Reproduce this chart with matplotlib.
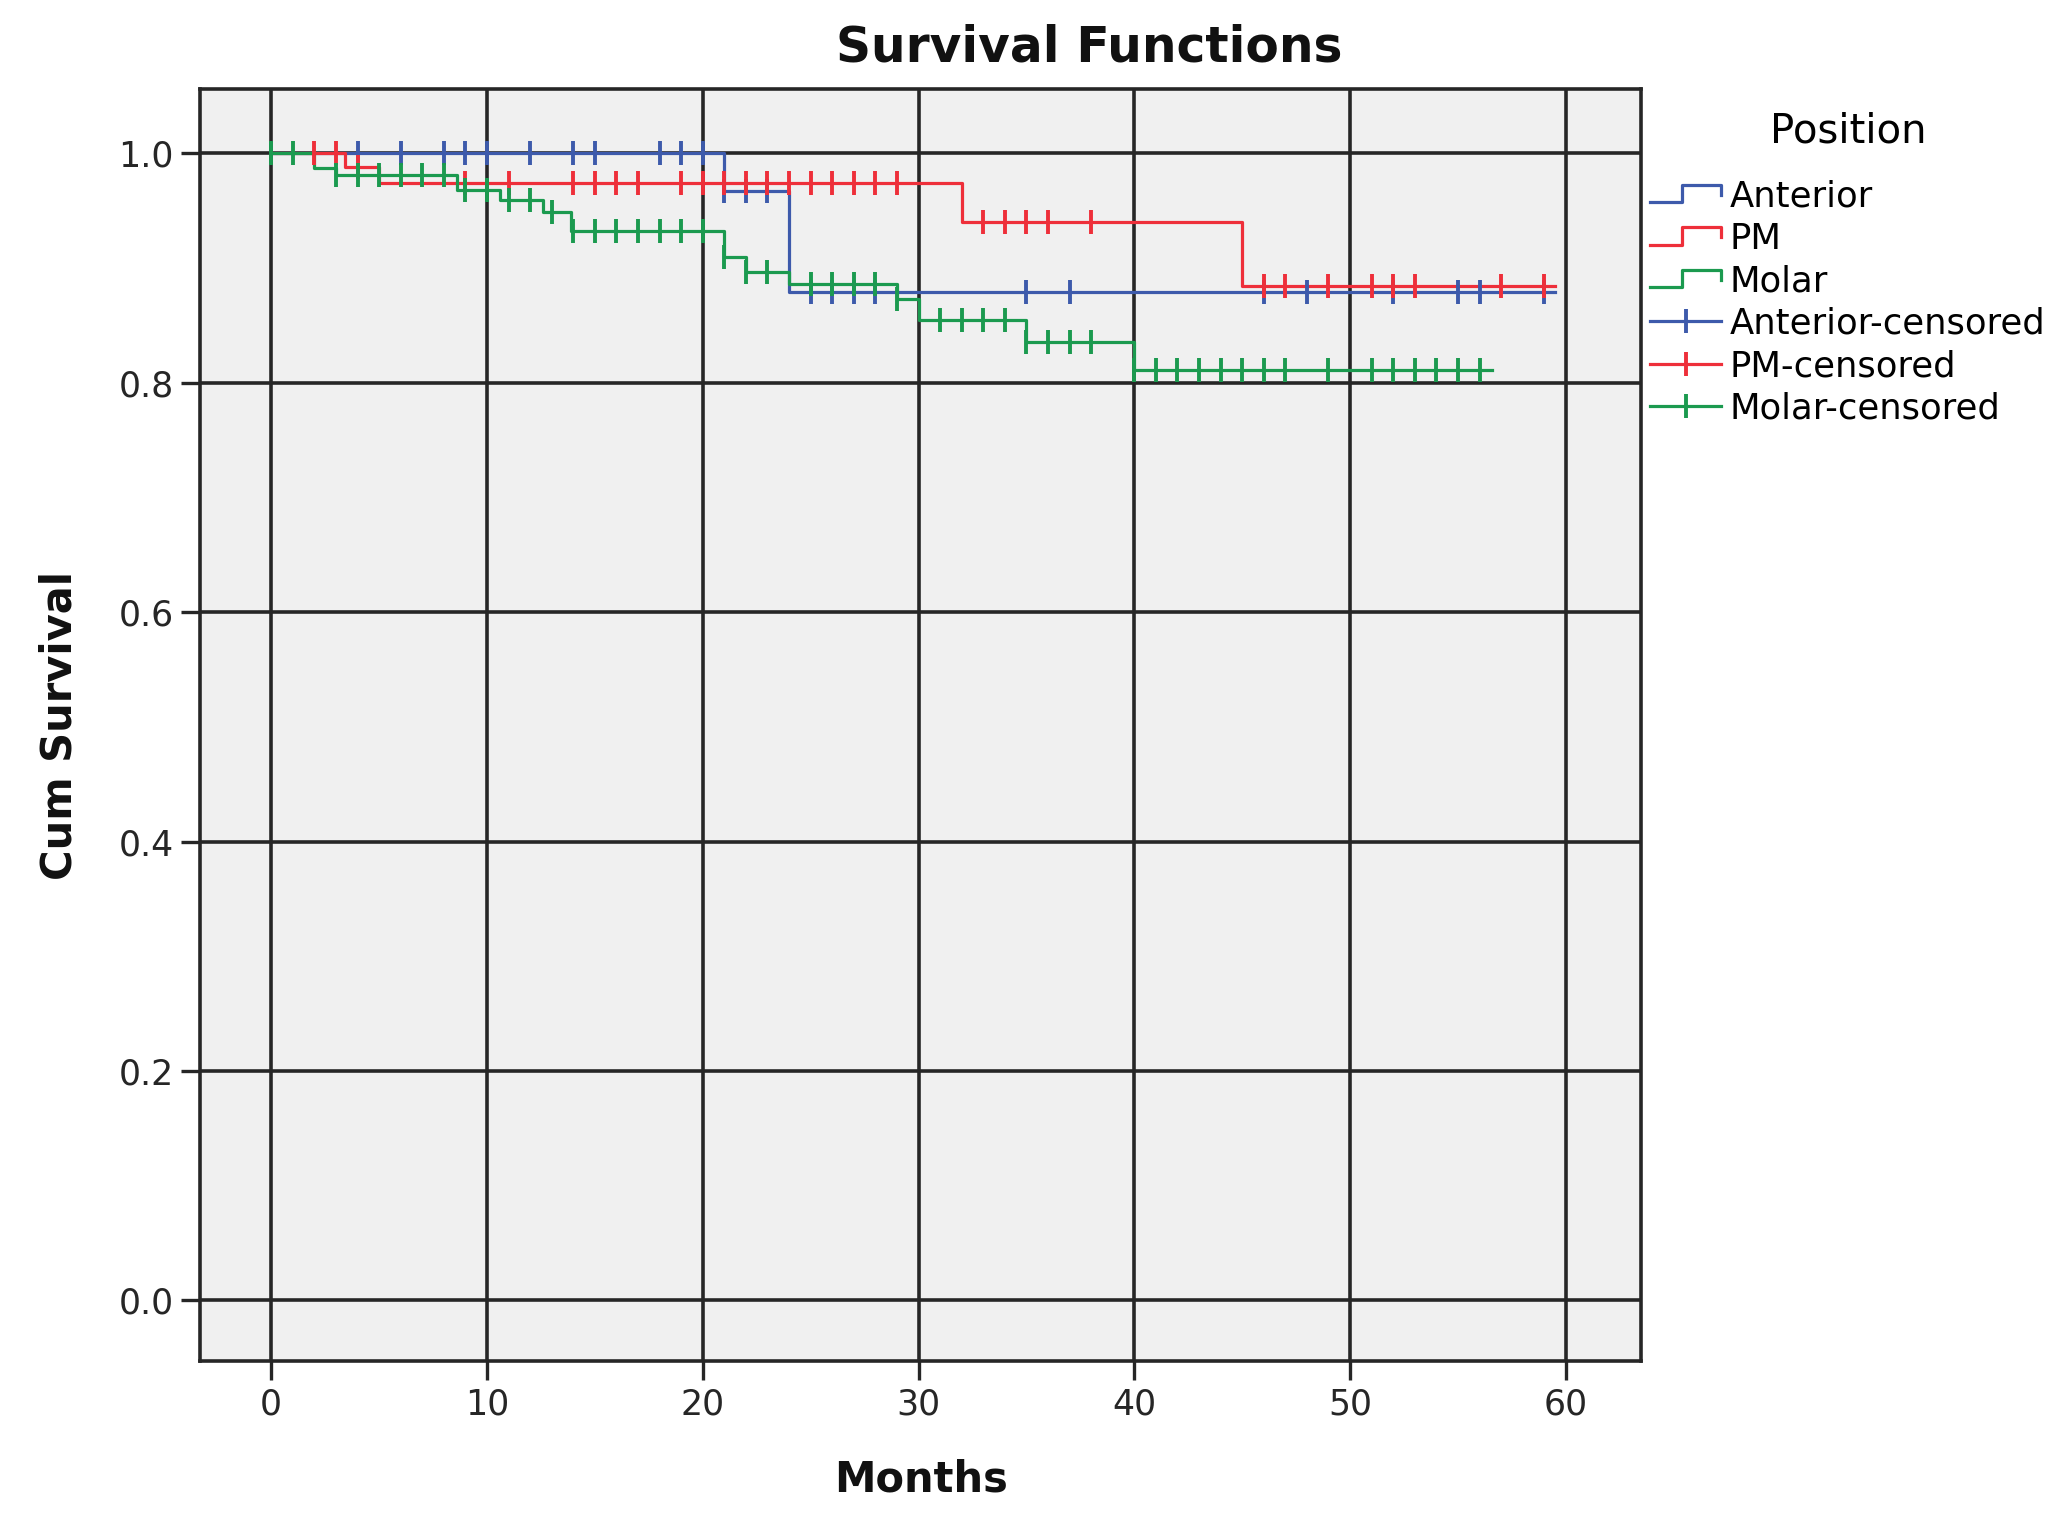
import numpy as np
import matplotlib
matplotlib.use('Agg')
import matplotlib.pyplot as plt
from matplotlib.lines import Line2D
from matplotlib.legend_handler import HandlerBase

# Kaplan-Meier steps: event times (months) and survival after each step
ant_t = [0, 21, 24]
ant_s = [1.0, 0.967, 0.879]
ant_end = 59.5
ant_cens = [4, 6, 8, 9, 10, 12, 14, 15, 18, 19, 20, 21, 22, 23,
            25, 26, 27, 28, 35, 37, 46, 48, 52, 55, 56, 59]

pm_t = [0, 3.4, 5, 32, 45]
pm_s = [1.0, 0.988, 0.974, 0.940, 0.884]
pm_end = 59.5
pm_cens = [2, 3, 4, 9, 11, 14, 15, 16, 17, 19, 20, 21, 22, 23, 24, 25, 26, 27, 28, 29,
           33, 34, 35, 36, 38, 46, 47, 49, 51, 52, 53, 57, 59]

molar_t = [0, 2, 3, 8.6, 10.6, 12.6, 13.9, 21, 22, 24, 29, 30, 35, 40]
molar_s = [1.0, 0.987, 0.981, 0.968, 0.959, 0.949, 0.932, 0.910, 0.897, 0.886,
           0.873, 0.855, 0.836, 0.811]
molar_end = 56.6
molar_cens = [0, 1, 3, 4, 5, 6, 7, 8, 9, 10, 11, 12, 13, 14, 15, 16, 17, 18, 19, 20,
              21, 22, 23, 25, 26, 27, 28, 29, 31, 32, 33, 34, 35, 36, 37, 38,
              40, 41, 42, 43, 44, 45, 46, 47, 49, 51, 52, 53, 54, 55, 56]

groups = ['Anterior', 'PM', 'Molar']
colors = ['#3d5aab', '#ee2f3a', '#1b9a4f']
x_ticks = [0, 10, 20, 30, 40, 50, 60]
y_ticks = [0.0, 0.2, 0.4, 0.6, 0.8, 1.0]

DARK = '#262626'


class StepHandler(HandlerBase):
    # little step-shaped legend key like SPSS draws
    def create_artists(self, legend, orig_handle, xdescent, ydescent,
                       width, height, fontsize, trans):
        fx = [0, 0.45, 0.45, 1.0, 1.0]
        fy = [0.15, 0.15, 0.85, 0.85, 0.45]
        x = [-xdescent + f * width for f in fx]
        y = [-ydescent + f * height for f in fy]
        line = Line2D(x, y, color=orig_handle.get_color(),
                      lw=orig_handle.get_linewidth())
        line.set_transform(trans)
        return [line]


def level_at(times, surv, t):
    idx = np.searchsorted(times, t, side='right') - 1
    return np.asarray(surv)[idx]


def main():
    fig = plt.figure(figsize=(20.62, 15.25), dpi=100)
    ax = fig.add_axes([0.097, 0.1075, 0.699, 0.834])
    ax.set_facecolor('#f0f0f0')

    series = [
        (ant_t, ant_s, ant_end, ant_cens),
        (pm_t, pm_s, pm_end, pm_cens),
        (molar_t, molar_s, molar_end, molar_cens),
    ]

    step_handles = []
    cens_handles = []
    for (t, s, end, cens), name, c in zip(series, groups, colors):
        tt = list(t) + [end]
        ss = list(s) + [s[-1]]
        ln, = ax.step(tt, ss, where='post', color=c, lw=2.3, zorder=3)
        ct = np.array(cens, dtype=float)
        ax.plot(ct, level_at(t, s, ct), ls='none', marker='|', ms=17, mew=2.8,
                color=c, zorder=4)
        step_handles.append(ln)
        cens_handles.append(Line2D([], [], color=c, lw=2.3, marker='|', ms=17, mew=2.8))

    ax.set_xlim(-3.3, 63.5)
    ax.set_ylim(-0.053, 1.056)
    ax.set_xticks(x_ticks)
    ax.set_yticks(y_ticks)
    ax.set_yticklabels(['%.1f' % v for v in y_ticks])
    ax.grid(True, color=DARK, lw=2.6, zorder=1)
    ax.set_axisbelow(True)
    for sp in ax.spines.values():
        sp.set_color(DARK)
        sp.set_linewidth(2.6)
    ax.tick_params(direction='out', length=14, width=2.4, color=DARK,
                   labelsize=25, labelcolor=DARK, pad=5)

    fig.text(0.528, 0.969, 'Survival Functions', ha='center', va='center',
             fontsize=35, fontweight='bold', color='#111111')
    fig.text(0.4465, 0.030, 'Months', ha='center', va='center',
             fontsize=30, fontweight='bold', color='#111111')
    fig.text(0.0287, 0.524, 'Cum Survival', ha='center', va='center',
             rotation=90, fontsize=30, fontweight='bold', color='#111111')

    handles = step_handles + cens_handles
    labels = groups + [g + '-censored' for g in groups]
    hmap = {h: StepHandler() for h in step_handles}
    leg = fig.legend(handles, labels, handler_map=hmap, loc='upper left',
                     bbox_to_anchor=(0.790, 0.941), frameon=False,
                     fontsize=25.5, title='Position', title_fontsize=29,
                     handlelength=2.0, handletextpad=0.25, labelspacing=0.24,
                     borderpad=0.6, borderaxespad=0, numpoints=1)
    leg._legend_box.sep = 20

    fig.savefig('out.png', dpi=100)


main()
